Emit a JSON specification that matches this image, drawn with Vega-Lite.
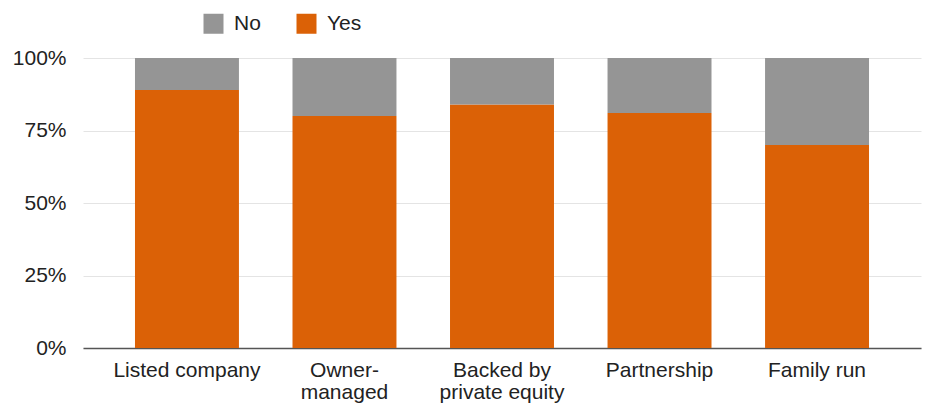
{
  "$schema": "https://vega.github.io/schema/vega-lite/v6.json",
  "width": 838,
  "height": 290,
  "autosize": {"type": "none"},
  "padding": {"left": 83, "top": 58, "right": 5, "bottom": 57},
  "background": "white",
  "config": {
    "view": {"stroke": null},
    "font": "Liberation Sans"
  },
  "data": {
    "values": [
      {"type": "Listed company", "answer": "Yes", "share": 0.89},
      {"type": "Listed company", "answer": "No", "share": 0.11},
      {"type": "Owner-managed", "answer": "Yes", "share": 0.80},
      {"type": "Owner-managed", "answer": "No", "share": 0.20},
      {"type": "Backed by private equity", "answer": "Yes", "share": 0.84},
      {"type": "Backed by private equity", "answer": "No", "share": 0.16},
      {"type": "Partnership", "answer": "Yes", "share": 0.81},
      {"type": "Partnership", "answer": "No", "share": 0.19},
      {"type": "Family run", "answer": "Yes", "share": 0.70},
      {"type": "Family run", "answer": "No", "share": 0.30}
    ]
  },
  "mark": {"type": "bar"},
  "encoding": {
    "x": {
      "field": "type",
      "type": "nominal",
      "sort": null,
      "scale": {"paddingInner": 0.34, "paddingOuter": 0.33},
      "axis": {
        "title": null,
        "labelAngle": 0,
        "labelFontSize": 21,
        "labelColor": "#222222",
        "labelPadding": 11,
        "labelLineHeight": 22,
        "labelLimit": 300,
        "ticks": false,
        "domain": true,
        "domainColor": "#555555",
        "domainWidth": 1.5,
        "labelExpr": "datum.value == 'Owner-managed' ? ['Owner-', 'managed'] : datum.value == 'Backed by private equity' ? ['Backed by', 'private equity'] : datum.value"
      }
    },
    "y": {
      "field": "share",
      "type": "quantitative",
      "stack": "zero",
      "scale": {"domain": [0, 1]},
      "axis": {
        "title": null,
        "format": ".0%",
        "values": [0, 0.25, 0.5, 0.75, 1],
        "labelFontSize": 21,
        "labelColor": "#222222",
        "labelPadding": 17,
        "ticks": false,
        "domain": false,
        "gridColor": "#e4e4e4",
        "gridWidth": 1
      }
    },
    "color": {
      "field": "answer",
      "type": "nominal",
      "scale": {"domain": ["No", "Yes"], "range": ["#959595", "#db6106"]},
      "legend": {
        "title": null,
        "orient": "none",
        "direction": "horizontal",
        "legendX": 120,
        "legendY": -45,
        "symbolType": "square",
        "symbolSize": 400,
        "symbolStrokeWidth": 0,
        "labelFontSize": 21,
        "labelColor": "#222222",
        "labelOffset": 10,
        "columnPadding": 35
      }
    },
    "order": {"field": "answer", "sort": "descending"}
  }
}
